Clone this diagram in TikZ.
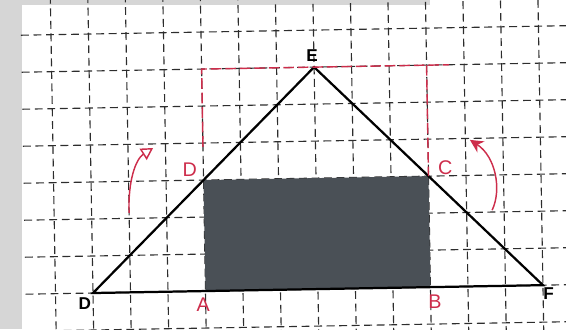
\documentclass[tikz,border=0pt]{standalone}
\usepackage{fontspec}
\setsansfont{Liberation Sans}
\usetikzlibrary{arrows.meta}
\definecolor{gridgray}{RGB}{45,45,45}
\definecolor{penred}{RGB}{205,45,75}
\definecolor{slate}{RGB}{74,80,86}
\definecolor{edgegray}{RGB}{214,214,214}
\begin{document}
\begin{tikzpicture}[x=1cm,y=0.9867cm]

\tikzset{
  grid line/.style={gridgray, line width=0.85pt, dash pattern=on 6pt off 3.5pt},
  red line/.style={penred, line width=1.1pt, dash pattern=on 8pt off 3pt},
  corner label/.style={font=\sffamily\bfseries\fontsize{13}{15}\selectfont, inner sep=1pt},
  pen label/.style={penred, font=\sffamily\fontsize{15}{17}\selectfont, inner sep=1pt},
  pen arrow/.style={penred, line width=1.1pt}
}

\useasboundingbox (-2.48,-0.973) rectangle (12.613,7.919);
\clip (-2.48,-0.973) rectangle (12.613,7.919);

% Paper edge
\fill[edgegray] (-2.48,-0.973) rectangle (-1.893,7.919);
\fill[edgegray] (-1.893,7.78) rectangle (8.99,7.919);

\begin{scope}[rotate=1]

% Grid: vertical lines
\draw[grid line] (-1,-1.3) -- (-1,8.3);
\draw[grid line] (0,-1.3) -- (0,8.3);
\draw[grid line] (1,-1.3) -- (1,8.3);
\draw[grid line] (2,-1.3) -- (2,8.3);
\draw[grid line] (3,-1.3) -- (3,8.3);
\draw[grid line] (4,-1.3) -- (4,8.3);
\draw[grid line] (5,-1.3) -- (5,8.3);
\draw[grid line] (6,-1.3) -- (6,8.3);
\draw[grid line] (7,-1.3) -- (7,8.3);
\draw[grid line] (8,-1.3) -- (8,8.3);
\draw[grid line] (9,-1.3) -- (9,8.3);
\draw[grid line] (10,-1.3) -- (10,8.3);
\draw[grid line] (11,-1.3) -- (11,8.3);
\draw[grid line] (12,-1.3) -- (12,8.3);
\draw[grid line] (13,-1.3) -- (13,8.3);

% Grid: horizontal lines
\draw[grid line] (-1.8,-1) -- (13.5,-1);
\draw[grid line] (-1.8,0) -- (13.5,0);
\draw[grid line] (-1.8,1) -- (13.5,1);
\draw[grid line] (-1.8,2) -- (13.5,2);
\draw[grid line] (-1.8,3) -- (13.5,3);
\draw[grid line] (-1.8,4) -- (13.5,4);
\draw[grid line] (-1.8,5) -- (13.5,5);
\draw[grid line] (-1.8,6) -- (13.5,6);
\draw[grid line] (-1.8,7) -- (13.5,7);

% Corners
\coordinate (D) at (0,0);
\coordinate (A) at (3,0);
\coordinate (B) at (9,0);
\coordinate (F) at (12,0);
\coordinate (E) at (6,6);
\coordinate (C) at (9,3);
\coordinate (Dr) at (3,3);

% Raised square (red, dashed)
\coordinate (Dtop) at (3,6);
\coordinate (Dmid) at (3,3.9);
\coordinate (Ctop) at (9,6);
\coordinate (Rend) at (9.6,6);

% Shaded rectangle and triangle
\fill[slate] (A) rectangle (C);
\draw[line width=1.7pt] (D) -- (E) -- (F) -- cycle;

\draw[red line] (Dmid) -- (Dtop) -- (Rend);
\draw[red line] (Ctop) -- (C);

% Labels
\node[corner label] (labE) at (5.95,6.32) {E};
\node[corner label] (labD) at (-0.22,-0.27) {D};
\node[corner label] (labF) at (12.15,-0.22) {F};
\node[pen label] (labDr) at (2.64,3.28) {D};
\node[pen label] (labC) at (9.45,3.21) {C};
\node[pen label] (labA) at (2.93,-0.38) {A};
\node[pen label] (labB) at (9.11,-0.4) {B};

% Turning arrows
\coordinate (La) at (1.0,2.15);
\coordinate (Lb) at (1.67,3.89);
\coordinate (Ra) at (10.68,2.05);
\coordinate (Rb) at (10.12,3.96);
\draw[pen arrow, -{Triangle[open, length=9pt, width=10pt]}] (La) .. controls (0.98,3.0) and (1.2,3.6) .. (Lb);
\draw[pen arrow, -{Stealth[length=10pt, width=10pt]}] (Ra) .. controls (10.95,2.6) and (10.8,3.5) .. (Rb);

\end{scope}

\end{tikzpicture}
\end{document}
